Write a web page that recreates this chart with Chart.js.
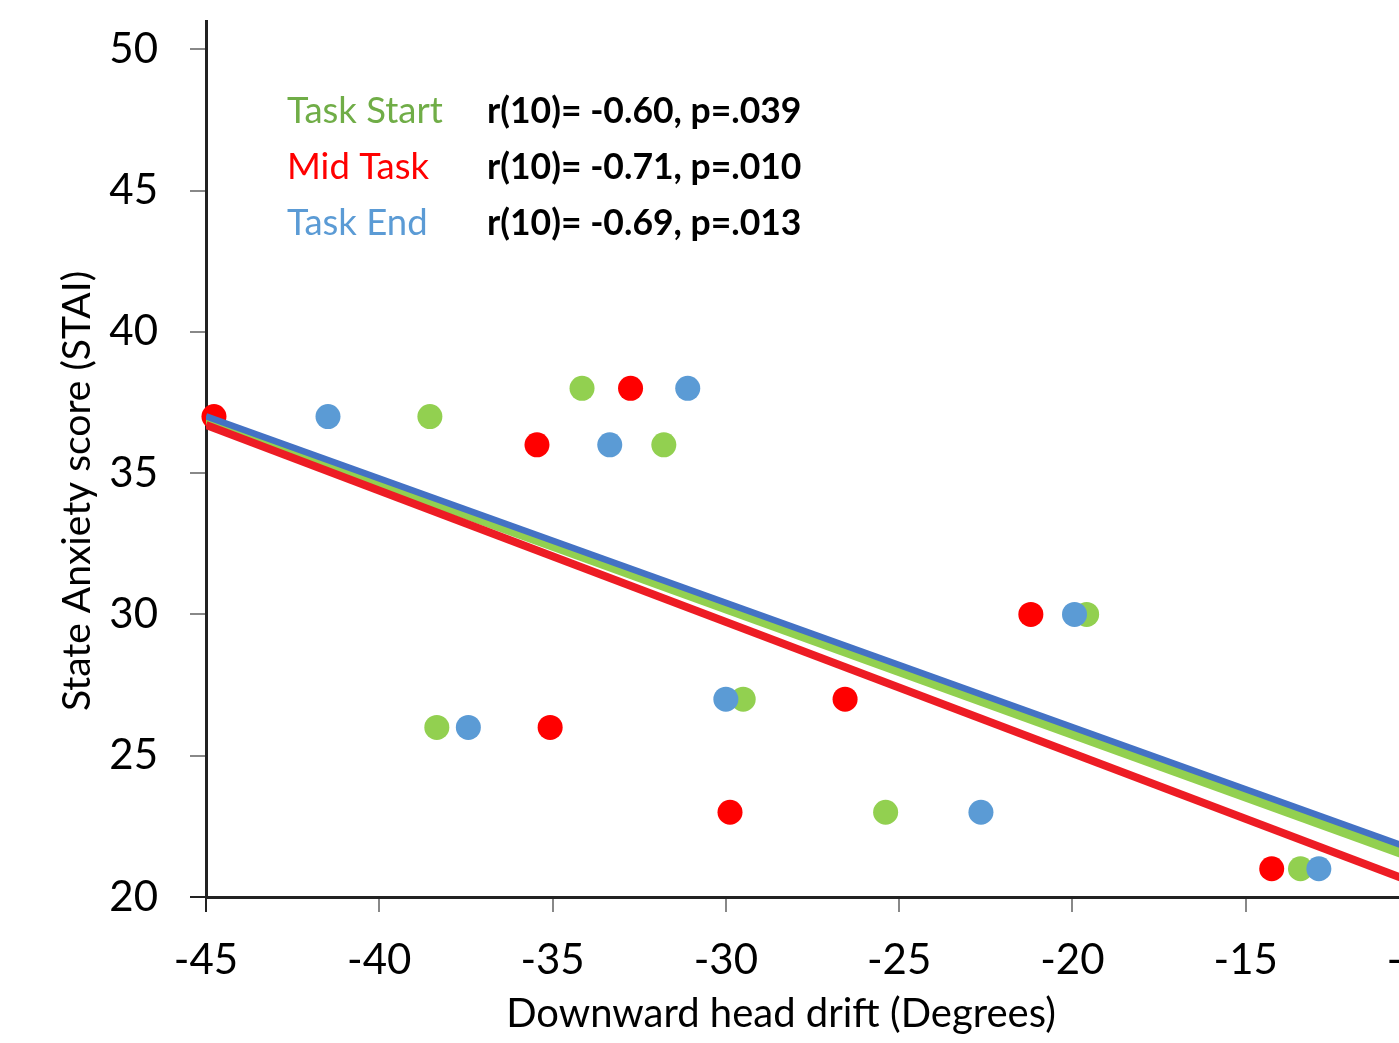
<!DOCTYPE html>
<html>
<head>
<meta charset="utf-8">
<script src="https://cdn.jsdelivr.net/npm/chart.js@4.4.1/dist/chart.umd.min.js"></script>
<style>
  html, body { margin: 0; padding: 0; background: #fff; overflow: hidden; }
  #wrap { position: absolute; left: 0; top: 0; width: 1460px; height: 1043px; }
</style>
</head>
<body>
<div id="wrap"><canvas id="drift-chart" width="1460" height="1043"></canvas></div>
<script>
// STAI score per participant, and head drift at each time point
const anxiety = [37, 38, 36, 26, 27, 23, 30, 21];
const driftStart = [-38.54, -34.15, -31.79, -38.34, -29.5, -25.39, -19.59, -13.42];
const driftMid = [-44.77, -32.75, -35.45, -35.07, -26.56, -29.88, -21.2, -14.25];
const driftEnd = [-41.48, -31.1, -33.35, -37.43, -30.0, -22.64, -19.94, -12.89];

// linear fits, read at the two ends of the x range
const fitX = [-45, -10];
const fitStart = [36.87, 21.33];
const fitMid = [36.7, 20.44];
const fitEnd = [37.01, 21.61];

const seriesNames = ["Task Start", "Mid Task", "Task End"];
const statLabels = ["r(10)= -0.60, p=.039", "r(10)= -0.71, p=.010", "r(10)= -0.69, p=.013"];
const xTicks = [-45, -40, -35, -30, -25, -20, -15, -10];
const yTicks = [20, 25, 30, 35, 40, 45, 50];

const pointColors = ["#92D050", "#FF0000", "#5B9BD5"];
const lineColors = ["#92D050", "#ED1C24", "#4472C4"];
const textColors = ["#70AD47", "#FF0000", "#5B9BD5"];

function pts(xs, ys) {
  return xs.map(function (x, i) { return { x: x, y: ys[i] }; });
}

const overlay = {
  id: "overlay",
  afterDraw: function (chart) {
    const c = chart.ctx;
    const area = chart.chartArea;
    c.save();
    c.textBaseline = "alphabetic";
    c.textAlign = "left";
    seriesNames.forEach(function (name, i) {
      const y = 123 + i * 56;
      c.font = "36.5px Lato";
      c.fillStyle = textColors[i];
      c.fillText(name, area.left + 81, y);
      c.font = "bold 35.5px Lato";
      c.fillStyle = "#000";
      c.fillText(statLabels[i], area.left + 281, y);
    });
    c.fillStyle = "#000";
    c.font = "40px Lato";
    c.textAlign = "center";
    c.fillText("Downward head drift (Degrees)", 781, 1027);
    c.font = "39px Lato";
    c.translate(90, 491);
    c.rotate(-Math.PI / 2);
    c.fillText("State Anxiety score (STAI)", 0, 0);
    c.restore();
  }
};

new Chart(document.getElementById("drift-chart"), {
  type: "scatter",
  data: {
    datasets: [
      { label: "Task End fit", data: pts(fitX, fitEnd), showLine: true, borderColor: lineColors[2], borderWidth: 6.5, pointRadius: 0, order: 0 },
      { label: "Mid Task fit", data: pts(fitX, fitMid), showLine: true, borderColor: lineColors[1], borderWidth: 8, pointRadius: 0, order: 1 },
      { label: "Task Start fit", data: pts(fitX, fitStart), showLine: true, borderColor: lineColors[0], borderWidth: 10, pointRadius: 0, order: 2 },
      { label: seriesNames[2], data: pts(driftEnd, anxiety), backgroundColor: pointColors[2], pointRadius: 12.5, pointBorderWidth: 0, clip: false, order: 3 },
      { label: seriesNames[1], data: pts(driftMid, anxiety), backgroundColor: pointColors[1], pointRadius: 12.5, pointBorderWidth: 0, clip: false, order: 4 },
      { label: seriesNames[0], data: pts(driftStart, anxiety), backgroundColor: pointColors[0], pointRadius: 12.5, pointBorderWidth: 0, clip: false, order: 5 }
    ]
  },
  options: {
    responsive: false,
    animation: false,
    devicePixelRatio: 1,
    layout: { padding: { left: 0, right: 41, top: 21, bottom: 0 } },
    plugins: { legend: { display: false }, tooltip: { enabled: false } },
    scales: {
      x: {
        type: "linear",
        min: -45,
        max: -10,
        afterBuildTicks: function (s) { s.ticks = xTicks.map(function (v) { return { value: v }; }); },
        afterFit: function (s) { s.height = 146; s.paddingLeft = 0; s.paddingRight = 0; },
        ticks: { color: "#000", font: { family: "Lato", size: 42 }, padding: 23 },
        grid: {
          drawOnChartArea: false,
          tickLength: 15,
          lineWidth: 2,
          color: function (ctx) { return ctx.tick && ctx.tick.value === -45 ? "#222" : "#888"; }
        },
        border: { color: "#222", width: 3 }
      },
      y: {
        type: "linear",
        min: 20,
        max: 51,
        afterBuildTicks: function (s) { s.ticks = yTicks.map(function (v) { return { value: v }; }); },
        afterFit: function (s) { s.width = 206; s.paddingTop = 0; s.paddingBottom = 0; },
        ticks: { color: "#000", font: { family: "Lato", size: 42 }, padding: 32 },
        grid: {
          drawOnChartArea: false,
          tickLength: 16,
          lineWidth: 2,
          color: function (ctx) { return ctx.tick && ctx.tick.value === 20 ? "#222" : "#888"; }
        },
        border: { color: "#222", width: 3 }
      }
    }
  },
  plugins: [overlay]
});
</script>
</body>
</html>
